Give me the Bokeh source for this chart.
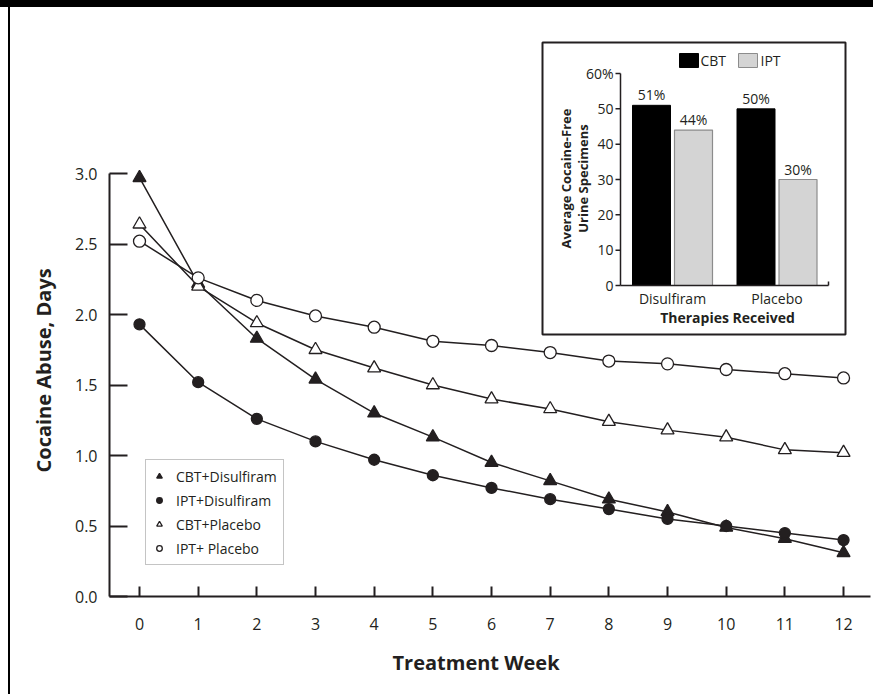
from bokeh.plotting import figure
from bokeh.models import Range1d, FixedTicker, Legend, LegendItem, Title
from bokeh.core.properties import value
from bokeh.embed import file_html
from bokeh.resources import INLINE

# ---------------- data ----------------
weeks = list(range(13))
cbt_disulfiram = [2.97, 2.22, 1.83, 1.54, 1.30, 1.13, 0.95, 0.82, 0.69, 0.60, 0.49, 0.41, 0.31]
ipt_disulfiram = [1.93, 1.52, 1.26, 1.10, 0.97, 0.86, 0.77, 0.69, 0.62, 0.55, 0.50, 0.45, 0.40]
cbt_placebo = [2.64, 2.20, 1.94, 1.75, 1.62, 1.50, 1.40, 1.33, 1.24, 1.18, 1.13, 1.04, 1.02]
ipt_placebo = [2.52, 2.26, 2.10, 1.99, 1.91, 1.81, 1.78, 1.73, 1.67, 1.65, 1.61, 1.58, 1.55]
y_ticks = [0, 0.5, 1.0, 1.5, 2.0, 2.5, 3.0]
y_tick_labels = ["0.0", "0.5", "1.0", "1.5", "2.0", "2.5", "3.0"]

inset_groups = ["Disulfiram", "Placebo"]
inset_cbt = [51, 50]
inset_ipt = [44, 30]
inset_ticks = [0, 10, 20, 30, 40, 50, 60]
inset_tick_labels = ["0", "10", "20", "30", "40", "50", "60%"]

FONT = value("Open Sans")
INK = "#231f20"

# ---------------- layout (canvas pixels) ----------------
W, H = 873, 694
FL, FR, FT, FB = 109, 870, 30, 596          # frame edges
X0_PX, PX_WEEK = 139, 58.67                 # week 0 position, px per week
PX_UNIT = 141                               # px per 1.0 day

x_start = (FL - X0_PX) / PX_WEEK
y_end = (FB - FT) / PX_UNIT
p = figure(width=W, height=H, output_backend="svg", toolbar_location=None,
           x_range=Range1d(x_start, (FR - X0_PX) / PX_WEEK),
           y_range=Range1d(0, y_end),
           min_border_left=FL, min_border_right=W - FR,
           min_border_top=FT, min_border_bottom=H - FB,
           background_fill_color="white", border_fill_color=None)
p.styles = {"background": "linear-gradient(#000, #000) 0 0 / 100% 7px no-repeat, "
                          "linear-gradient(#000, #000) 8px 0 / 2px 100% no-repeat, #fff"}
p.outline_line_color = None
p.xgrid.visible = False
p.ygrid.visible = False

for ax in (p.xaxis[0], p.yaxis[0]):
    ax.axis_line_width = 2
    ax.axis_line_color = INK
    ax.major_tick_line_width = 2
    ax.major_tick_line_color = INK
    ax.major_tick_out = 0
    ax.minor_tick_line_color = None
    ax.major_label_text_font = "Open Sans"
    ax.major_label_text_font_size = "16px"
    ax.major_label_text_color = INK

p.xaxis.ticker = FixedTicker(ticks=weeks)
p.xaxis.major_tick_in = 10
p.xaxis.major_label_standoff = 21

p.yaxis.ticker = FixedTicker(ticks=y_ticks)
p.yaxis.bounds = (0, 3)
p.yaxis.major_tick_in = 18
p.yaxis.major_label_overrides = {t: s for t, s in zip(y_ticks, y_tick_labels)}
p.yaxis.major_label_text_baseline = "top"   # labels sit just below their ticks
p.yaxis.major_label_text_line_height = 2.0
p.yaxis.major_label_standoff = 12

TITLE_STYLE = dict(text_font="Open Sans", text_font_size="20px",
                   text_font_style="bold", text_color=INK)
# axis titles, placed where the original has them
p.add_layout(Title(text="Cocaine Abuse, Days", align="left", offset=124,
                   vertical_align="top", standoff=26, **TITLE_STYLE), "left")
p.add_layout(Title(text="Treatment Week", align="left", offset=283,
                   vertical_align="top", standoff=32, **TITLE_STYLE), "below")

# series
series = [
    ("CBT+Disulfiram", cbt_disulfiram, "triangle", INK, 13),
    ("IPT+Disulfiram", ipt_disulfiram, "circle", INK, 11),
    ("CBT+Placebo", cbt_placebo, "triangle", "white", 13),
    ("IPT+ Placebo", ipt_placebo, "circle", "white", 12),
]
items = []
for name, ys, mk, fill, sz in series:
    p.line(weeks, ys, line_color=INK, line_width=1.5)
for name, ys, mk, fill, sz in series:
    r = p.scatter(weeks, ys, marker=mk, size=sz, fill_color=fill,
                  line_color=INK, line_width=1.3)
    items.append(LegendItem(label=name, renderers=[r]))

legend = Legend(items=items, location=(36, 31), margin=0,
                label_text_font="Open Sans", label_text_font_size="14px",
                label_text_color=INK, border_line_color="#8a8a8a",
                border_line_width=1.5, background_fill_color="white",
                background_fill_alpha=1, padding=6, spacing=4,
                glyph_height=20, glyph_width=14, label_height=20,
                label_standoff=10)
p.add_layout(legend)

# ---------------- inset (own scales) ----------------
GX, GSP = 672, 104.5        # x of first group centre, px per group
Y0I, PX_PCT = 285, 3.533    # y of 0 %, px per %


def ix(px):
    return 1 + (px - GX) / GSP


def iy(py):
    return (Y0I - py) / PX_PCT


p.extra_x_ranges = {"ix": Range1d(ix(FL), ix(FR))}
p.extra_y_ranges = {"iy": Range1d(iy(FB), iy(FT))}
kw = dict(x_range_name="ix", y_range_name="iy")

# box
p.quad(left=[ix(542)], right=[ix(845)], bottom=[iy(334)], top=[iy(42)],
       fill_color="white", line_color=INK, line_width=2, **kw)

gpos = [i + 1 for i in range(len(inset_groups))]
off = 21 / GSP
bw = 38 / GSP
p.vbar(x=[g - off for g in gpos], top=inset_cbt, width=bw, bottom=0,
       fill_color="black", line_color="black", **kw)
p.vbar(x=[g + off for g in gpos], top=inset_ipt, width=bw, bottom=0,
       fill_color="#d4d4d4", line_color="#8c8c8c", line_width=1.2, **kw)

# value labels
p.text(x=[g - off for g in gpos] + [g + off for g in gpos],
       y=inset_cbt + inset_ipt,
       text=[f"{v}%" for v in inset_cbt + inset_ipt],
       text_font=FONT, text_font_size="14px", text_color=INK,
       text_align="center", text_baseline="bottom", y_offset=-1, **kw)

# inset axes
ax_x = ix(620)
ax_x_end = ix(828)
p.segment(x0=[ax_x], y0=[0], x1=[ax_x], y1=[max(inset_ticks)],
          line_color=INK, line_width=1.5, **kw)
p.segment(x0=[ax_x], y0=[0], x1=[ax_x_end], y1=[0],
          line_color=INK, line_width=1.5, **kw)
p.segment(x0=[ax_x_end], y0=[0], x1=[ax_x_end], y1=[4 / PX_PCT],
          line_color=INK, line_width=1.5, **kw)
p.segment(x0=[ax_x - 5 / GSP] * len(inset_ticks), y0=inset_ticks,
          x1=[ax_x] * len(inset_ticks), y1=inset_ticks,
          line_color=INK, line_width=1.5, **kw)
p.text(x=[ax_x] * len(inset_ticks), y=inset_ticks, text=inset_tick_labels,
       text_font=FONT, text_font_size="14px", text_color=INK,
       text_align="right", text_baseline="middle", x_offset=-7, **kw)
p.text(x=gpos, y=[0] * len(gpos), text=inset_groups,
       text_font=FONT, text_font_size="14px", text_color=INK,
       text_align="center", text_baseline="top", y_offset=3, **kw)
p.text(x=[ix(727)], y=[iy(317)], text=["Therapies Received"],
       text_font=FONT, text_font_size="14px", text_font_style="bold",
       text_color=INK, text_align="center", text_baseline="middle", **kw)
p.text(x=[ix(574)], y=[iy(178)], text=["Average Cocaine-Free\nUrine Specimens"],
       angle=1.5708, text_font=FONT, text_font_size="13px",
       text_font_style="bold", text_color=INK, text_align="center",
       text_baseline="middle", text_line_height=0.95, **kw)

# inset legend
p.quad(left=[ix(679), ix(738)], right=[ix(698), ix(757)],
       bottom=[iy(67), iy(67)], top=[iy(53), iy(53)],
       fill_color=["black", "#d4d4d4"], line_color=["black", "#8c8c8c"], **kw)
p.text(x=[ix(700), ix(760)], y=[iy(60), iy(60)], text=["CBT", "IPT"],
       text_font=FONT, text_font_size="14px", text_color=INK,
       text_align="left", text_baseline="middle", **kw)

open("out.html", "w").write(file_html(p, INLINE))
